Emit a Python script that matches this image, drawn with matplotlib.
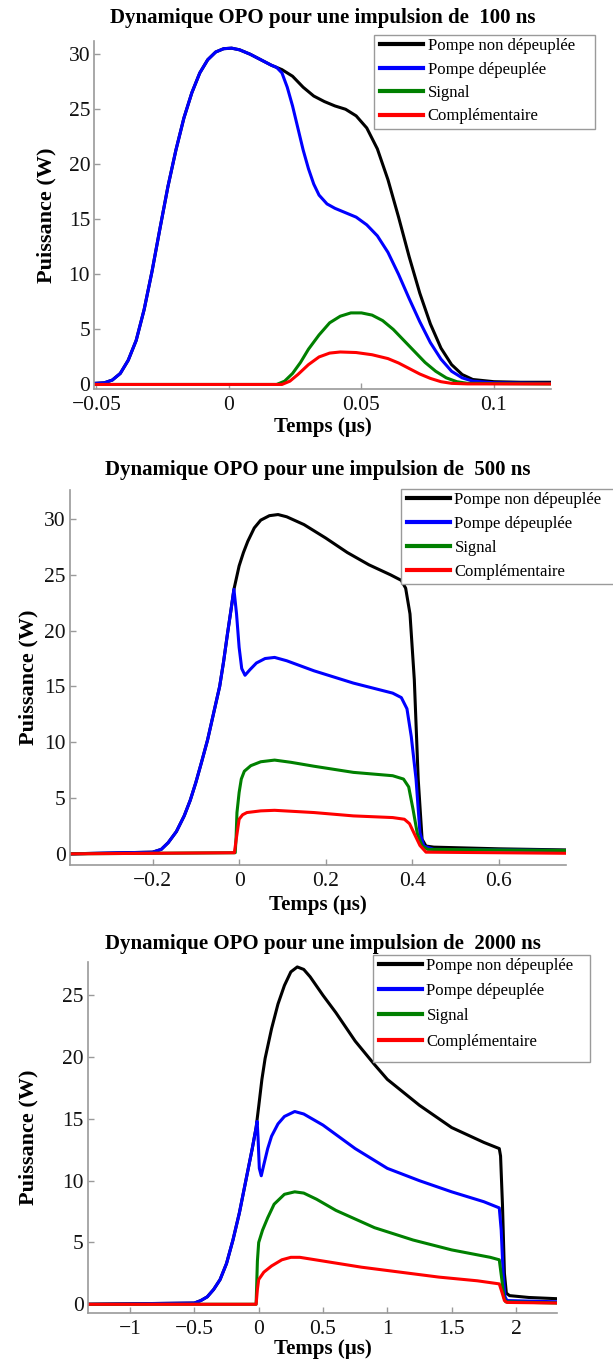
import matplotlib
matplotlib.use("Agg")
import matplotlib.pyplot as plt
from matplotlib.patches import Rectangle

plt.rcParams['font.family'] = ['Liberation Serif', 'DejaVu Serif']

# ---------------- Data ----------------
labels = ["Pompe non dépeuplée", "Pompe dépeuplée", "Signal", "Complémentaire"]
colors = ["#000000", "#0000ff", "#008000", "#ff0000"]
titles = ["Dynamique OPO pour une impulsion de  100 ns",
          "Dynamique OPO pour une impulsion de  500 ns",
          "Dynamique OPO pour une impulsion de  2000 ns"]

# Panel 1 (100 ns)
p1_t_black = [-0.0505, -0.047, -0.044, -0.041, -0.038, -0.035, -0.032, -0.029, -0.026, -0.023, -0.02,
              -0.017, -0.014, -0.011, -0.008, -0.005, -0.002, 0.001, 0.004, 0.008, 0.012, 0.016, 0.02,
              0.024, 0.028, 0.032, 0.036, 0.04, 0.044, 0.048, 0.052, 0.056, 0.06, 0.064, 0.068, 0.072,
              0.076, 0.08, 0.084, 0.088, 0.092, 0.1, 0.11, 0.1214]
p1_black = [0.1, 0.15, 0.4, 1.0, 2.2, 4.0, 6.8, 10.3, 14.2, 18.0, 21.3,
            24.2, 26.5, 28.3, 29.5, 30.2, 30.5, 30.55, 30.4, 30.0, 29.5, 29.0, 28.6,
            28.0, 27.0, 26.2, 25.7, 25.3, 25.0, 24.4, 23.3, 21.4, 18.6, 15.2, 11.6, 8.3,
            5.5, 3.3, 1.8, 0.9, 0.45, 0.25, 0.2, 0.2]
p1_t_blue = [-0.0505, -0.047, -0.044, -0.041, -0.038, -0.035, -0.032, -0.029, -0.026, -0.023, -0.02,
             -0.017, -0.014, -0.011, -0.008, -0.005, -0.002, 0.001, 0.004, 0.008, 0.012, 0.016, 0.018,
             0.02, 0.022, 0.024, 0.026, 0.028, 0.03, 0.032, 0.034, 0.037, 0.04, 0.044, 0.048, 0.052,
             0.056, 0.06, 0.064, 0.068, 0.072, 0.076, 0.08, 0.084, 0.088, 0.092, 0.1, 0.1214]
p1_blue = [0.1, 0.15, 0.4, 1.0, 2.2, 4.0, 6.8, 10.3, 14.2, 18.0, 21.3,
           24.2, 26.5, 28.3, 29.5, 30.2, 30.5, 30.55, 30.4, 30.0, 29.5, 29.0, 28.8,
           28.3, 27.0, 25.3, 23.3, 21.3, 19.6, 18.2, 17.2, 16.4, 16.0, 15.6, 15.2, 14.5,
           13.5, 12.0, 10.0, 7.8, 5.7, 3.8, 2.3, 1.2, 0.6, 0.3, 0.15, 0.1]
p1_t_green = [-0.0505, 0.018, 0.021, 0.024, 0.027, 0.03, 0.034, 0.038, 0.042, 0.046, 0.05, 0.054,
              0.058, 0.062, 0.066, 0.07, 0.074, 0.078, 0.082, 0.086, 0.09, 0.1214]
p1_green = [0.0, 0.0, 0.3, 1.0, 2.0, 3.2, 4.5, 5.6, 6.2, 6.5, 6.5, 6.3,
            5.8, 5.0, 4.0, 3.0, 2.0, 1.2, 0.6, 0.25, 0.1, 0.05]
p1_t_red = [-0.0505, 0.02, 0.023, 0.026, 0.03, 0.034, 0.038, 0.042, 0.048, 0.054, 0.06, 0.064,
            0.068, 0.072, 0.076, 0.08, 0.084, 0.09, 0.1214]
p1_red = [0.0, 0.0, 0.3, 0.9, 1.8, 2.5, 2.85, 2.95, 2.9, 2.7, 2.35, 1.95,
          1.45, 0.95, 0.55, 0.25, 0.1, 0.05, 0.05]

# Panel 2 (500 ns)
p2_t_black = [-0.391, -0.2, -0.18, -0.164, -0.145, -0.127, -0.113, -0.1, -0.087, -0.073, -0.059,
              -0.045, -0.036, -0.027, -0.019, -0.012, 0.0, 0.01, 0.02, 0.035, 0.05, 0.07, 0.09, 0.11,
              0.15, 0.2, 0.25, 0.3, 0.35, 0.375, 0.385, 0.395, 0.405, 0.414, 0.423, 0.432, 0.45,
              0.6, 0.755]
p2_black = [0.0, 0.15, 0.4, 1.0, 2.0, 3.4, 4.8, 6.4, 8.2, 10.2, 12.6,
            15.0, 17.2, 19.7, 21.8, 23.7, 25.8, 27.0, 28.0, 29.2, 29.9, 30.3, 30.4, 30.2,
            29.5, 28.3, 27.0, 25.9, 25.0, 24.5, 23.8, 21.5, 15.6, 6.7, 1.3, 0.7, 0.6,
            0.45, 0.35]
p2_t_blue = [-0.391, -0.2, -0.18, -0.164, -0.145, -0.127, -0.113, -0.1, -0.087, -0.073, -0.059,
             -0.045, -0.036, -0.027, -0.019, -0.012, -0.006, 0.0, 0.006, 0.0136, 0.025, 0.04, 0.06,
             0.082, 0.11, 0.173, 0.264, 0.355, 0.375, 0.388, 0.398, 0.409, 0.418, 0.427, 0.45, 0.755]
p2_blue = [0.0, 0.15, 0.4, 1.0, 2.0, 3.4, 4.8, 6.4, 8.2, 10.2, 12.6,
           15.0, 17.2, 19.7, 21.8, 23.7, 21.5, 18.5, 16.6, 16.0, 16.5, 17.1, 17.5,
           17.6, 17.3, 16.4, 15.3, 14.4, 14.0, 13.0, 10.5, 6.7, 1.9, 0.7, 0.4, 0.3]
p2_t_green = [-0.391, -0.009, -0.007, -0.005, 0.0, 0.005, 0.012, 0.027, 0.05, 0.082, 0.12, 0.173,
              0.264, 0.355, 0.38, 0.392, 0.402, 0.412, 0.423, 0.436, 0.755]
p2_green = [0.0, 0.1, 1.5, 3.7, 5.5, 6.7, 7.4, 7.9, 8.25, 8.4, 8.2, 7.85,
            7.3, 7.0, 6.7, 6.0, 4.0, 1.8, 0.7, 0.4, 0.3]
p2_t_red = [-0.391, -0.011, -0.006, 0.0, 0.008, 0.018, 0.05, 0.082, 0.173, 0.264, 0.355, 0.382,
            0.394, 0.405, 0.418, 0.432, 0.755]
p2_red = [0.0, 0.1, 1.5, 3.1, 3.5, 3.7, 3.85, 3.9, 3.7, 3.4, 3.25, 3.1,
          2.7, 1.8, 0.75, 0.15, 0.05]

# Panel 3 (2000 ns)
p3_t_black = [-1.329, -0.5, -0.45, -0.4, -0.35, -0.3, -0.25, -0.2, -0.15, -0.1, -0.05, -0.02, 0.0,
              0.025, 0.05, 0.1, 0.15, 0.2, 0.25, 0.3, 0.35, 0.4, 0.5, 0.6, 0.75, 0.9, 1.0, 1.25,
              1.5, 1.75, 1.87, 1.88, 1.895, 1.91, 1.925, 1.95, 2.1, 2.321]
p3_black = [0.0, 0.1, 0.3, 0.6, 1.2, 2.0, 3.3, 5.2, 7.4, 10.0, 12.6, 14.3, 16.0,
            18.2, 19.9, 22.3, 24.3, 25.8, 26.9, 27.3, 27.1, 26.5, 25.0, 23.6, 21.3, 19.4, 18.2, 16.1,
            14.3, 13.1, 12.6, 12.0, 8.0, 2.5, 0.9, 0.7, 0.55, 0.45]
p3_t_blue = [-1.329, -0.5, -0.45, -0.4, -0.35, -0.3, -0.25, -0.2, -0.15, -0.1, -0.05, -0.02, -0.012,
             -0.005, 0.005, 0.02, 0.04, 0.07, 0.1, 0.15, 0.2, 0.28, 0.35, 0.5, 0.75, 1.0, 1.25,
             1.5, 1.75, 1.87, 1.885, 1.9, 1.915, 1.93, 2.321]
p3_blue = [0.0, 0.1, 0.3, 0.6, 1.2, 2.0, 3.3, 5.2, 7.4, 10.0, 12.6, 14.3, 14.8,
           13.5, 11.0, 10.4, 11.3, 12.6, 13.6, 14.6, 15.2, 15.6, 15.4, 14.5, 12.6, 11.0, 10.0,
           9.1, 8.3, 7.8, 6.0, 2.5, 0.6, 0.3, 0.2]
p3_t_green = [-1.329, -0.02, -0.01, 0.0, 0.03, 0.07, 0.12, 0.2, 0.28, 0.35, 0.45, 0.6, 0.9, 1.2,
              1.5, 1.8, 1.87, 1.89, 1.905, 1.92, 2.321]
p3_green = [0.0, 0.0, 3.5, 5.0, 6.0, 7.0, 8.1, 8.9, 9.1, 9.0, 8.5, 7.6, 6.2, 5.2,
            4.4, 3.8, 3.6, 2.0, 0.6, 0.2, 0.1]
p3_t_red = [-1.329, -0.02, -0.01, 0.0, 0.04, 0.1, 0.18, 0.25, 0.32, 0.5, 0.8, 1.1, 1.4, 1.7,
            1.87, 1.89, 1.91, 1.93, 2.321]
p3_red = [0.0, 0.0, 1.2, 2.0, 2.6, 3.1, 3.6, 3.8, 3.8, 3.5, 3.0, 2.6, 2.2, 1.9,
          1.65, 1.0, 0.3, 0.15, 0.1]

p1_xticks = [-0.05, 0, 0.05, 0.1]
p1_xticklabels = ["\u22120.05", "0", "0.05", "0.1"]
p2_xticks = [-0.2, 0, 0.2, 0.4, 0.6]
p2_xticklabels = ["\u22120.2", "0", "0.2", "0.4", "0.6"]
p3_xticks = [-1, -0.5, 0, 0.5, 1, 1.5, 2]
p3_xticklabels = ["\u22121", "\u22120.5", "0", "0.5", "1", "1.5", "2"]
p12_yticks = [0, 5, 10, 15, 20, 25, 30]
p3_yticks = [0, 5, 10, 15, 20, 25]

# ---------------- Figure ----------------
W, H = 613, 1363
fig = plt.figure(figsize=(W / 100, H / 100), dpi=100)

def px_axes(left, right, top, bottom):
    return fig.add_axes([left / W, 1 - bottom / H, (right - left) / W, (bottom - top) / H])

panels = [
    dict(box=(94.3, 550.7, 41, 389.3), xlim=(-0.0508, 0.1214), ylim=(-0.44, 31.2),
         series=[(p1_t_black, p1_black), (p1_t_blue, p1_blue), (p1_t_green, p1_green), (p1_t_red, p1_red)],
         xt=(p1_xticks, p1_xticklabels), yt=p12_yticks, title_y=18, ylab_x=46,
         xlab_y=427, leg=(374, 595, 35, 129), lsp=0.45),
    dict(box=(70, 565.7, 490, 865), xlim=(-0.391, 0.755), ylim=(-1.0, 32.6),
         series=[(p2_t_black, p2_black), (p2_t_blue, p2_blue), (p2_t_green, p2_green), (p2_t_red, p2_red)],
         xt=(p2_xticks, p2_xticklabels), yt=p12_yticks, title_y=470, ylab_x=28,
         xlab_y=905, leg=(401, 616, 489, 584), lsp=0.47),
    dict(box=(87.7, 557.3, 962, 1313.3), xlim=(-1.329, 2.321), ylim=(-0.73, 27.7),
         series=[(p3_t_black, p3_black), (p3_t_blue, p3_blue), (p3_t_green, p3_green), (p3_t_red, p3_red)],
         xt=(p3_xticks, p3_xticklabels), yt=p3_yticks, title_y=944, ylab_x=28,
         xlab_y=1349, leg=(373, 590, 955, 1062), lsp=0.55),
]

for i, p in enumerate(panels):
    l, r, t, b = p["box"]
    ax = px_axes(l, r, t, b)
    handles = []
    for (xs, ys), c, lab in zip(p["series"], colors, labels):
        h, = ax.plot(xs, ys, color=c, lw=2.2, label=lab, solid_joinstyle='round')
        handles.append(h)
    ax.set_xlim(*p["xlim"])
    ax.set_ylim(*p["ylim"])
    ax.set_xticks(p["xt"][0])
    ax.set_xticklabels(p["xt"][1])
    ax.set_yticks(p["yt"])
    for s in ["top", "right"]:
        ax.spines[s].set_visible(False)
    for s in ["left", "bottom"]:
        ax.spines[s].set_color("#9a9a9a")
        ax.spines[s].set_linewidth(1.2)
    ax.tick_params(direction="in", length=4, width=1, color="#9a9a9a",
                   labelsize=15.5, labelcolor="#111111")
    ax.tick_params(axis="x", pad=5)
    ax.tick_params(axis="y", pad=3)
    ax.patch.set_alpha(0)
    fig.text((l + r) / 2 / W, 1 - p["title_y"] / H, titles[i], ha="center", va="center",
             fontsize=15, fontweight="bold")
    fig.text(p["ylab_x"] / W, 1 - (t + b) / 2 / H, "Puissance (W)", rotation=90,
             ha="center", va="center", fontsize=16, fontweight="bold")
    fig.text((l + r) / 2 / W, 1 - p["xlab_y"] / H, "Temps (\u00b5s)", ha="center", va="center",
             fontsize=15, fontweight="bold")
    bl, br, bt, bb = p["leg"]
    fig.add_artist(Rectangle((bl / W, 1 - bb / H), (br - bl) / W, (bb - bt) / H,
                             transform=fig.transFigure, facecolor="white",
                             edgecolor="#9a9a9a", linewidth=1.0, zorder=3))
    leg = fig.legend(handles=handles, loc="upper left",
                     bbox_to_anchor=((bl + 6) / W, 1 - (bt + 3) / H), fontsize=12,
                     frameon=False, borderaxespad=0, borderpad=0, handlelength=2.6,
                     handletextpad=0.25, labelspacing=p["lsp"])
    leg.set_zorder(5)
    for ln in leg.get_lines():
        ln.set_linewidth(3)

fig.savefig("out.png", dpi=100)
